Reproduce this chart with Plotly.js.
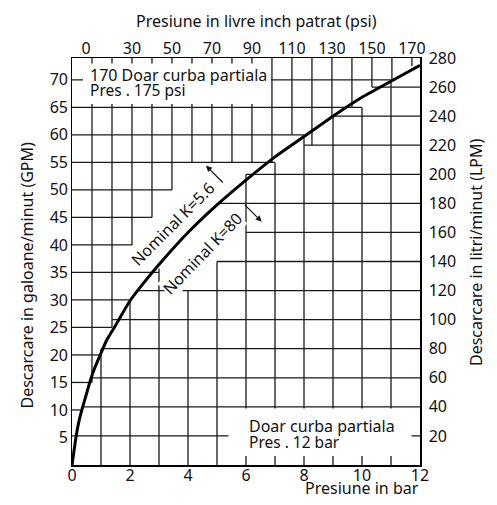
<!DOCTYPE html>
<html><head><meta charset="utf-8">
<script src="https://cdn.plot.ly/plotly-3.0.1.min.js"></script>
<style>html,body{margin:0;padding:0;background:#fff}#chart{width:497px;height:505px}</style>
</head><body><div id="chart"></div>
<script>
// ---------------- data ----------------
// flow curve, bar vs litres/minute
const curveBar = [0, 0.05, 0.14, 0.25, 0.37, 0.5, 0.6, 0.75, 1, 1.2, 1.5, 2, 2.5, 3, 4, 5, 6, 7, 8, 9, 10, 11, 12];
const curveLpm = [0, 7, 19.5, 31, 40, 49, 56, 65, 77, 86, 96, 113, 126, 138, 160, 179, 196, 212, 226, 240, 253, 264, 275];

// tick labels
const barTicks = [0, 2, 4, 6, 8, 10, 12];
const gpmTicks = [5, 10, 15, 20, 25, 30, 35, 40, 45, 50, 55, 60, 65, 70];
const lpmTicks = [20, 40, 60, 80, 100, 120, 140, 160, 180, 200, 220, 240, 260, 280];
const psiTickVals = [7, 30, 50, 70, 90, 110, 130, 150, 170];
const psiTickText = ['0', '30', '50', '70', '90', '110', '130', '150', '170'];

// staircase grid: upper (GPM / psi) system
const gpmGrid        = [10, 15, 20, 25, 30, 35, 40, 45, 50, 55, 60, 65, 70];
const gpmGridEndPsi  = [5.5, 10, 14.5, 20, 29, 43.5, 30, 40, 50, 101.5, 116, 145, 159.5];
const psiGrid        = [10, 20, 30, 40, 50, 60, 70, 80, 90, 100, 110, 120, 130, 140, 150, 160, 170];
const psiGridEndGpm  = [15, 25, 40, 45, 50, 55, 55, 55, 55, 55, 60, 58.1, 63.4, 65, 68.7, 70, 72.5];
// staircase grid: lower (LPM / bar) system
const lpmGrid        = [20, 40, 60, 80, 100, 120, 140, 160, 180, 200, 220, 240, 260];
const lpmGridStartBar= [0, 0.38, 0.69, 1, 1.38, 2.28, 5, 6, 5.06, 6, 8, 9, 10.34];
const barGrid        = [1, 2, 3, 4, 5, 6, 7, 8, 9, 10, 11];
const barGridEndLpm  = [80, 113.5, 135, 120, 140, 200, 208, 227, 240, 246, 265];

// unit conversions
const LPM_PER_GPM = 3.78541;
const PSI_PER_BAR = 14.5038;
const BAR_MAX = 12, LPM_MAX = 280;
const PSI_MAX = BAR_MAX * PSI_PER_BAR, GPM_MAX = LPM_MAX / LPM_PER_GPM;
const psiToBar = p => p / PSI_PER_BAR;
const gpmToLpm = g => g * LPM_PER_GPM;

// ---------------- layout helpers ----------------
const M = {l: 72, r: 77, t: 58, b: 40};
const W = 497, H = 505, PW = W - M.l - M.r, PH = H - M.t - M.b;
const px = x => (x - M.l) / PW;
const py = y => (M.t + PH - y) / PH;
const FONT = 'Noto Sans, DejaVu Sans, sans-serif';
const GL = {color: '#1a1a1a', width: 1.3};
const seg = (x0, y0, x1, y1) => ({type: 'line', xref: 'x', yref: 'y', x0, y0, x1, y1, line: GL, layer: 'below'});

const shapes = [];
gpmGrid.forEach((g, i) => shapes.push(seg(0, gpmToLpm(g), psiToBar(gpmGridEndPsi[i]), gpmToLpm(g))));
psiGrid.forEach((p, i) => shapes.push(seg(psiToBar(p), gpmToLpm(psiGridEndGpm[i]), psiToBar(p), LPM_MAX)));
lpmGrid.forEach((l, i) => shapes.push(seg(lpmGridStartBar[i], l, BAR_MAX, l)));
barGrid.forEach((b, i) => shapes.push(seg(b, 0, b, barGridEndLpm[i])));
// white note boxes
shapes.push({type: 'rect', xref: 'paper', yref: 'paper', x0: px(83), x1: px(271), y0: py(104), y1: py(63.5), fillcolor: 'white', line: {width: 0}, layer: 'above'});
shapes.push({type: 'rect', xref: 'paper', yref: 'paper', x0: px(228.5), x1: px(411.5), y0: py(456), y1: py(408.5), fillcolor: 'white', line: {width: 0}, layer: 'above'});

const txt = (text, x, y, opts) => Object.assign({text, xref: 'paper', yref: 'paper', x: px(x), y: py(y), showarrow: false, xanchor: 'center', yanchor: 'middle', font: {family: FONT, size: 16, color: '#111'}}, opts || {});

const annotations = [
  txt('Presiune in livre inch patrat (psi)', 256.5, 21),
  txt('Descarcare in galoane/minut (GPM)', 26.5, 275, {textangle: -90}),
  txt('Descarcare in litri/minut (LPM)', 476, 252, {textangle: -90}),
  txt('Presiune in bar', 421, 488, {xanchor: 'right'}),
  txt('170 Doar curba partiala', 88, 74.5, {xanchor: 'left'}),
  txt('Pres . 175 psi', 88, 90, {xanchor: 'left', font: {family: FONT, size: 15.5, color: '#111'}}),
  txt('Doar curba partiala', 246.5, 425.5, {xanchor: 'left'}),
  txt('Pres . 12 bar', 246.5, 442, {xanchor: 'left', font: {family: FONT, size: 15.5, color: '#111'}}),
  txt('Nominal K=5.6', 172.5, 224, {textangle: -45}),
  txt('Nominal K=80', 202, 254, {textangle: -46, bgcolor: 'white', borderpad: 0}),
  {text: '', xref: 'paper', yref: 'paper', x: px(206), y: py(165.7), ax: 18.3, ay: 18.3, showarrow: true, arrowhead: 2, arrowsize: 1, arrowwidth: 1.2, arrowcolor: '#111', standoff: 0},
  {text: '', xref: 'paper', yref: 'paper', x: px(261.7), y: py(221.7), ax: -18.4, ay: -18.4, showarrow: true, arrowhead: 2, arrowsize: 1, arrowwidth: 1.2, arrowcolor: '#111', standoff: 0}
];

const tickFont = {family: FONT, size: 16, color: '#111'};
const baseAxis = {showgrid: false, zeroline: false, ticks: '', tickfont: tickFont, fixedrange: true};

const traces = [
  {x: curveBar, y: curveLpm, xaxis: 'x', yaxis: 'y', mode: 'lines', line: {color: '#000', width: 3, shape: 'spline', smoothing: 0.6}, hoverinfo: 'skip', showlegend: false},
  // empty companions so the psi (top) and GPM (left) unit axes are drawn
  {x: [], y: [], xaxis: 'x2', yaxis: 'y', mode: 'lines', hoverinfo: 'skip', showlegend: false},
  {x: [], y: [], xaxis: 'x', yaxis: 'y2', mode: 'lines', hoverinfo: 'skip', showlegend: false}
];

const layout = {
  width: W, height: H, margin: M,
  paper_bgcolor: '#fff', plot_bgcolor: 'rgba(0,0,0,0)', showlegend: false,
  font: {family: FONT, size: 16, color: '#111'},
  // main axes: bar (bottom) and LPM (right)
  xaxis: Object.assign({}, baseAxis, {range: [0, BAR_MAX], tickvals: barTicks, showline: true, mirror: true, linecolor: '#000', linewidth: 1.5, ticklabelstandoff: -5}),
  yaxis: Object.assign({}, baseAxis, {range: [0, LPM_MAX], side: 'right', tickvals: lpmTicks, showline: true, mirror: true, linecolor: '#000', linewidth: 1.5, ticklabelstandoff: 4}),
  // companion unit axes: psi (top) and GPM (left)
  xaxis2: Object.assign({}, baseAxis, {range: [0, PSI_MAX], overlaying: 'x', side: 'top', anchor: 'y', tickvals: psiTickVals, ticktext: psiTickText, showline: false}),
  yaxis2: Object.assign({}, baseAxis, {range: [0, GPM_MAX], overlaying: 'y', side: 'left', anchor: 'x', tickvals: gpmTicks, showline: false, ticklabelstandoff: 3}),
  shapes, annotations
};

Plotly.newPlot('chart', traces, layout, {displayModeBar: false, staticPlot: true});
</script>
</body></html>
